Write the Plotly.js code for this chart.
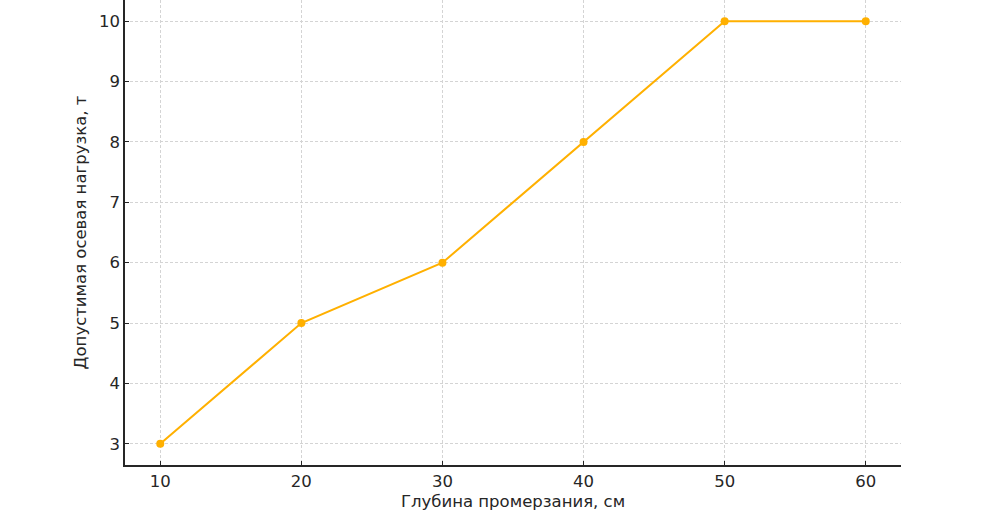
<!DOCTYPE html>
<html><head><meta charset="utf-8">
<script src="https://cdn.plot.ly/plotly-3.0.1.min.js"></script>
<style>html,body{margin:0;padding:0;background:#fff}#chart{width:1001px;height:531px}</style>
</head><body><div id="chart"></div>
<script>
const depth = [10, 20, 30, 40, 50, 60];
const load = [3, 5, 6, 8, 10, 10];
const xTitle = "Глубина промерзания, см";
const yTitle = "Допустимая осевая нагрузка, т";

Plotly.newPlot("chart", [{
  x: depth, y: load, type: "scatter", mode: "lines+markers",
  line: {color: "#FFB000", width: 2},
  marker: {color: "#FFB000", size: 8},
  showlegend: false
}], {
  width: 1001, height: 531,
  margin: {l: 125, r: 100, t: 0, b: 66},
  paper_bgcolor: "#fff", plot_bgcolor: "#fff",
  font: {family: "DejaVu Sans", size: 16.5, color: "#262626"},
  xaxis: {
    range: [7.5, 62.5], tickvals: depth, ticktext: depth.map(String),
    tickfont: {size: 16.5},
    showline: true, linecolor: "#262626", linewidth: 1.5, mirror: false,
    ticks: "inside", ticklen: 4, tickcolor: "#262626",
    showgrid: true, gridcolor: "#d4d4d4", griddash: "3px,2px", gridwidth: 1,
    zeroline: false,
    title: {text: xTitle, font: {size: 16.5}, standoff: 6}
  },
  yaxis: {
    range: [2.65, 10.35], tickvals: [3,4,5,6,7,8,9,10],
    tickfont: {size: 16.5},
    showline: true, linecolor: "#262626", linewidth: 1.5, mirror: false,
    ticks: "inside", ticklen: 4, tickcolor: "#262626",
    showgrid: true, gridcolor: "#d4d4d4", griddash: "3px,2px", gridwidth: 1,
    zeroline: false,
    title: {text: yTitle, font: {size: 16.5}, standoff: 8}
  }
}, {displayModeBar: false});
</script></body></html>
